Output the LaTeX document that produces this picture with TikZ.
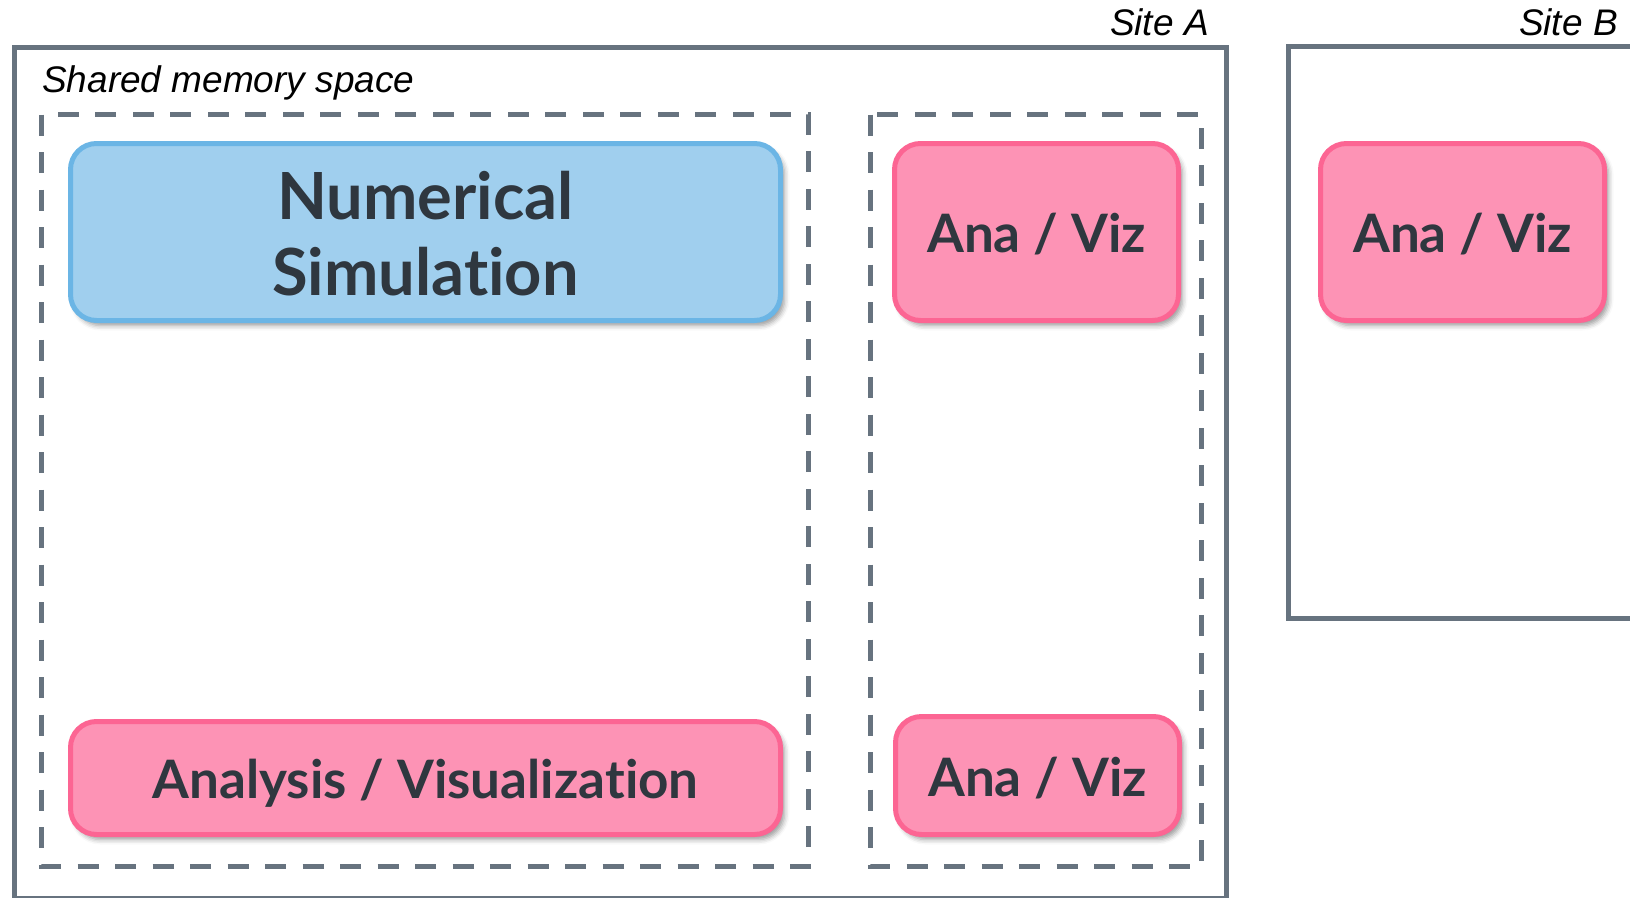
\documentclass[tikz,border=0pt]{standalone}
\usepackage{fontspec}
\newfontfamily\labelfont{Liberation Sans}
\newfontfamily\boxfont{Lato}[Ligatures=CommonOff]
\usetikzlibrary{shadows.blur}
\definecolor{edgegrey}{HTML}{67737F}
\definecolor{bluefill}{HTML}{A0CFEE}
\definecolor{blueedge}{HTML}{6BB5E5}
\definecolor{pinkfill}{HTML}{FD93B5}
\definecolor{pinkedge}{HTML}{FC6593}
\definecolor{textdark}{HTML}{2F373F}
\begin{document}
\begin{tikzpicture}[x=1pt,y=-1pt,
  sitebox/.style={draw=edgegrey, line width=5pt},
  groupbox/.style={draw=edgegrey, line width=5pt, dash pattern=on 21pt off 16.5pt},
  procbox/.style={rectangle, rounded corners=26pt, line width=5pt, text=textdark, align=center, inner sep=0pt,
    font=\boxfont\bfseries\fontsize{53}{60}\selectfont, text height=41pt, text depth=0pt,
    blur shadow={shadow xshift=4pt, shadow yshift=-5pt, shadow blur radius=5pt, shadow opacity=40}},
  simbox/.style={procbox, fill=bluefill, draw=blueedge},
  anabox/.style={procbox, fill=pinkfill, draw=pinkedge},
  sitelabel/.style={font=\labelfont\itshape\fontsize{37}{44}\selectfont, inner sep=0pt, text=black}
]
\useasboundingbox (0,0) rectangle (1630,897);
% site frames
\draw[sitebox] (14.5,47) rectangle (1226,898);
\draw[sitebox] (1288,46.5) rectangle (1632,618);
% group frames
\draw[groupbox] (41.5,114.5) rectangle (808.5,866);
\draw[groupbox] (870.5,114.5) rectangle (1201.5,866);
% labels
\node[sitelabel, anchor=base east] (siteA) at (1209,35) {Site A};
\node[sitelabel, anchor=base east] (siteB) at (1618,35) {Site B};
\node[sitelabel, anchor=base west] (shared) at (42,92) {Shared memory space};
% process boxes
\node[simbox, minimum width=710pt, minimum height=177pt, font=\boxfont\bfseries\fontsize{65}{76}\selectfont, text height=126pt, text depth=0pt] (sim) at (425.5,232) {Numerical\\Simulation};
\node[anabox, minimum width=284pt, minimum height=177pt] (anaA1) at (1036.5,232) {Ana / Viz};
\node[anabox, minimum width=284pt, minimum height=177pt] (anaB) at (1462.5,232) {Ana / Viz};
\node[anabox, minimum width=284pt, minimum height=118pt] (anaA2) at (1037.5,775.5) {Ana / Viz};
\node[anabox, minimum width=710pt, minimum height=113pt] (anavis) at (425.5,778) {Analysis / Visualization};
\end{tikzpicture}
\end{document}
